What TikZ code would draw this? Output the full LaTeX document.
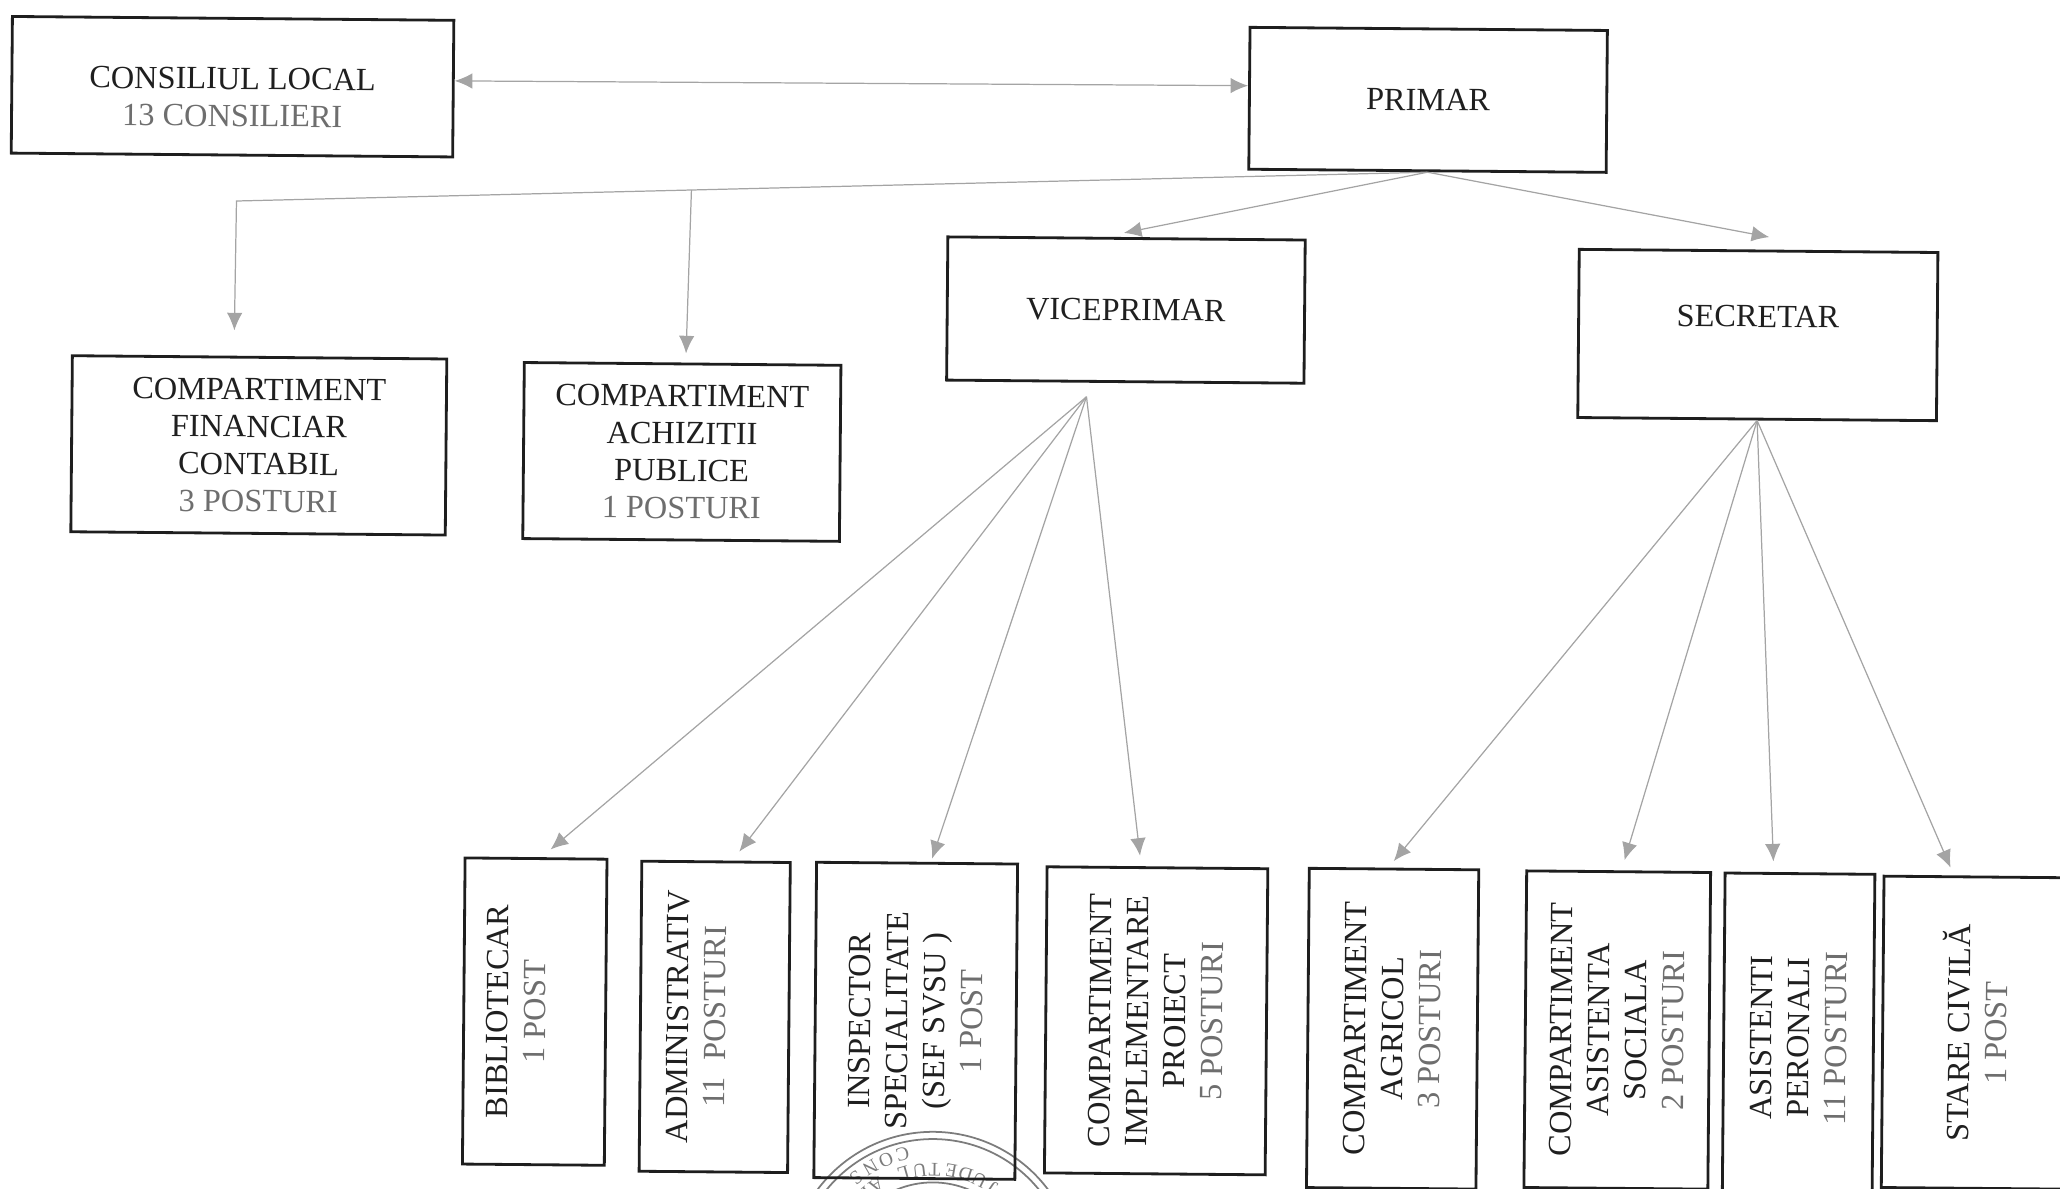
\documentclass[tikz,border=0pt]{standalone}
\usepackage{fontspec}
\setmainfont{Liberation Serif}
\usetikzlibrary{arrows.meta,calc}
\definecolor{inkline}{HTML}{1E1E1E}
\definecolor{inkgray}{HTML}{6E6E6E}
\definecolor{arrowgray}{HTML}{A4A4A4}
\definecolor{stampgray}{HTML}{7C7C7C}
\def\px{0.37382pt}
\newcommand{\cnt}[1]{\textcolor{inkgray}{#1}}
\tikzset{
  dims/.style 2 args={minimum width=#1*\px,minimum height=#2*\px},
  box/.style={draw=inkline,line width=0.8pt,inner sep=0pt,align=center,rotate=-0.5,text=black!88,font=\fontsize{9.2}{10.6}\selectfont},
  vbox/.style={box,rotate=90},
  arrow/.style={draw=arrowgray,line width=0.35pt,-{Latex[length=5pt,width=4.4pt]}},
  ring/.style={draw=stampgray,line width=0.5pt},
  stampchar/.style={text=stampgray,inner sep=0pt,font=\fontsize{5.5}{6}\selectfont}
}
\begin{document}
\begin{tikzpicture}[x=0.013138cm,y=-0.013138cm]
  \useasboundingbox (0,0) rectangle (1568,905);
  \coordinate (stamp) at (710,971);
  \draw[ring] (stamp) circle [radius=109.5];
  \draw[ring] (stamp) circle [radius=104];
  \draw[ring] (stamp) circle [radius=71];
  \foreach \ch/\ang in {C/104,O/112,N/120,S/128}
    \node[stampchar,rotate=\ang+90] (ring\ang) at ($(stamp)+(-\ang:95)$) {\ch};
  \foreach \ch/\ang in {J/56,U/64,D/72,E/80,T/89,U/97,L/106,A/122,R/130}
    \node[stampchar,rotate=\ang+90] (name\ang) at ($(stamp)+(-\ang:81)$) {\ch};

  \node[box,dims={336}{104}] (consiliu) at (177,66) {~\\[1.5pt]CONSILIUL LOCAL\\\cnt{13 CONSILIERI}};
  \node[box,dims={272}{108}] (primar) at (1087,76) {PRIMAR};
  \node[box,dims={272}{109}] (vice) at (857,236) {VICEPRIMAR};
  \node[box,dims={273}{128}] (secretar) at (1338,255) {SECRETAR\\~};
  \node[box,dims={285}{134}] (financiar) at (197,339) {COMPARTIMENT\\FINANCIAR\\CONTABIL\\\cnt{3 POSTURI}};
  \node[box,dims={241}{134}] (achizitii) at (519,344) {COMPARTIMENT\\ACHIZITII\\PUBLICE\\\cnt{1 POSTURI}};

  \node[vbox,dims={233}{108}] (biblio) at (407,770) {BIBLIOTECAR\\\cnt{1 POST}\\~};
  \node[vbox,dims={236}{113}] (admin) at (544,774) {ADMINISTRATIV\\\cnt{11\ \ POSTURI}\\~};
  \node[vbox,dims={240}{153}] (inspector) at (697,777) {INSPECTOR\\SPECIALITATE\\(SEF SVSU )\\\cnt{1 POST}};
  \node[vbox,dims={233}{168}] (proiect) at (880,777) {COMPARTIMENT\\IMPLEMENTARE\\PROIECT\\\cnt{5 POSTURI}};
  \node[vbox,dims={243}{129}] (agricol) at (1060,783) {COMPARTIMENT\\AGRICOL\\\cnt{3 POSTURI}};
  \node[vbox,dims={241}{140}] (sociala) at (1231,784) {COMPARTIMENT\\ASISTENTA\\SOCIALA\\\cnt{2 POSTURI}};
  \node[vbox,dims={250}{114}] (personali) at (1369,790) {ASISTENTI\\PERONALI\\\cnt{11 POSTURI}};
  \node[vbox,dims={237}{140}] (civila) at (1503,786) {STARE CIVILĂ\\\cnt{1 POST}};

  \coordinate (fork) at (180,153);
  \coordinate (vicefan) at (827,302);
  \draw[arrow,{Latex[length=5pt,width=4.4pt]}-{Latex[length=5pt,width=4.4pt]}] (consiliu.2) -- (primar.176);
  \draw[arrow,shorten >=7.2pt] (primar.south) -- (fork) -- (financiar.106);
  \draw[arrow,shorten >=2.6pt] ($(primar.south)!0.618!(fork)$) -- (achizitii.88);
  \draw[arrow,shorten >=5.7pt] (primar.south) -- (vice.107.5);
  \draw[arrow,shorten >=20pt] (primar.south) -- (secretar.47);

  \draw[arrow,shorten >=3.4pt] (vicefan) -- (biblio.-2.5);
  \draw[arrow,shorten >=3.2pt] (vicefan) -- (admin.-6.8);
  \draw[arrow,shorten >=1pt] (vicefan) -- (inspector.-5.5);
  \draw[arrow,shorten >=3pt] (vicefan) -- (proiect.6);
  \draw[arrow,shorten >=2.4pt] (secretar.south) -- (agricol.2);
  \draw[arrow,shorten >=3pt] (secretar.south) -- (sociala.-1);
  \draw[arrow,shorten >=3pt] (secretar.south) -- (personali.9);
  \draw[arrow,shorten >=2.4pt] (secretar.south) -- (civila.8.6);
\end{tikzpicture}
\end{document}
